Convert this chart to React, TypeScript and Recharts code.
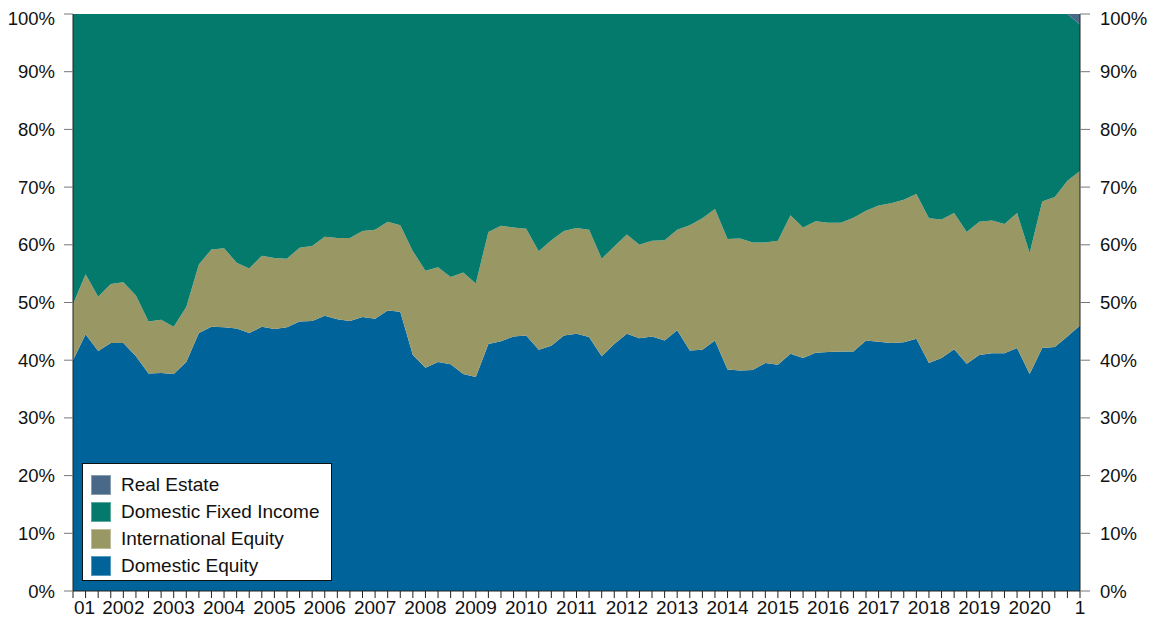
import React from 'react'
import { AreaChart, Area, XAxis, YAxis } from 'recharts'

// quarterly allocation mix, 2001 Q1 .. 2021 Q1 (percent of total)
const quarters = Array.from({ length: 81 }, (_, i) => `${2001 + Math.floor(i / 4)} Q${(i % 4) + 1}`)

const domesticEquity = [
  40.0, 44.5, 41.6, 43.0, 43.0, 40.7, 37.7, 37.8, 37.6, 39.7,
  44.7, 45.8, 45.7, 45.5, 44.7, 45.8, 45.4, 45.7, 46.7, 46.8,
  47.7, 47.1, 46.8, 47.5, 47.2, 48.6, 48.4, 40.9, 38.7, 39.7,
  39.3, 37.6, 37.1, 42.8, 43.3, 44.1, 44.3, 41.8, 42.5, 44.3,
  44.6, 44.0, 40.7, 42.8, 44.6, 43.8, 44.1, 43.4, 45.2, 41.7,
  41.8, 43.4, 38.4, 38.2, 38.3, 39.5, 39.2, 41.1, 40.4, 41.3,
  41.4, 41.5, 41.5, 43.4, 43.2, 43.0, 43.1, 43.7, 39.5, 40.4,
  41.9, 39.4, 40.9, 41.2, 41.2, 42.1, 37.6, 42.1, 42.3, 44.1,
  46.0,
]

const internationalEquity = [
  9.7, 10.4, 9.4, 10.2, 10.5, 10.5, 9.0, 9.2, 8.2, 9.5,
  11.9, 13.4, 13.7, 11.4, 11.2, 12.3, 12.3, 11.9, 12.8, 13.0,
  13.7, 14.1, 14.4, 14.9, 15.4, 15.4, 15.0, 18.0, 16.8, 16.4,
  15.1, 17.6, 16.2, 19.4, 20.0, 18.9, 18.5, 17.1, 18.3, 18.1,
  18.3, 18.6, 16.9, 16.9, 17.2, 16.2, 16.6, 17.4, 17.4, 21.7,
  22.8, 22.8, 22.6, 22.9, 22.1, 20.9, 21.5, 24.0, 22.6, 22.8,
  22.4, 22.3, 23.2, 22.5, 23.6, 24.2, 24.7, 25.1, 25.1, 24.0,
  23.6, 22.8, 23.1, 23.0, 22.4, 23.4, 21.0, 25.4, 26.0, 27.0,
  26.8,
]

const domesticFixedIncome = [
  50.3, 45.1, 49.0, 46.8, 46.5, 48.8, 53.3, 53.0, 54.2, 50.8,
  43.4, 40.8, 40.6, 43.1, 44.1, 41.9, 42.3, 42.4, 40.5, 40.2,
  38.6, 38.8, 38.8, 37.6, 37.4, 36.0, 36.6, 41.1, 44.5, 43.9,
  45.6, 44.8, 46.7, 37.8, 36.7, 37.0, 37.2, 41.1, 39.2, 37.6,
  37.1, 37.4, 42.4, 40.3, 38.2, 40.0, 39.3, 39.2, 37.4, 36.6,
  35.4, 33.8, 39.0, 38.9, 39.6, 39.6, 39.3, 34.9, 37.0, 35.9,
  36.2, 36.2, 35.3, 34.1, 33.2, 32.8, 32.2, 31.2, 35.4, 35.6,
  34.5, 37.8, 36.0, 35.8, 36.4, 34.5, 41.4, 32.5, 31.7, 28.9,
  25.4,
]

const realEstate = [
  0, 0, 0, 0, 0, 0, 0, 0, 0, 0,
  0, 0, 0, 0, 0, 0, 0, 0, 0, 0,
  0, 0, 0, 0, 0, 0, 0, 0, 0, 0,
  0, 0, 0, 0, 0, 0, 0, 0, 0, 0,
  0, 0, 0, 0, 0, 0, 0, 0, 0, 0,
  0, 0, 0, 0, 0, 0, 0, 0, 0, 0,
  0, 0, 0, 0, 0, 0, 0, 0, 0, 0,
  0, 0, 0, 0, 0, 0, 0, 0, 0, 0,
  1.8,
]

// one label per year, on every fourth quarter
const yearLabels = [
  '01', '2002', '2003', '2004', '2005', '2006', '2007', '2008', '2009', '2010', '2011',
  '2012', '2013', '2014', '2015', '2016', '2017', '2018', '2019', '2020', '1',
]
const yTicks = [0, 10, 20, 30, 40, 50, 60, 70, 80, 90, 100]

const data = quarters.map((q, i) => ({
  quarter: q,
  domesticEquity: domesticEquity[i],
  internationalEquity: internationalEquity[i],
  domesticFixedIncome: domesticFixedIncome[i],
  realEstate: realEstate[i],
}))

const series = [
  { key: 'domesticEquity', name: 'Domestic Equity', color: '#00639A' },
  { key: 'internationalEquity', name: 'International Equity', color: '#999865' },
  { key: 'domesticFixedIncome', name: 'Domestic Fixed Income', color: '#037A6C' },
  { key: 'realEstate', name: 'Real Estate', color: '#4A6988' },
]

const FONT = '"Liberation Sans", Arial, sans-serif'

function XTick(props: any) {
  const { x, y, index } = props
  if (index % 4 !== 0) return null
  const first = index === 0
  return (
    <text x={first ? x + 1 : x} y={y} dy="0.71em" textAnchor={first ? 'start' : 'middle'}
      fill="#111" fontSize={19} fontFamily={FONT}>
      {yearLabels[index / 4]}
    </text>
  )
}

function LegendBox() {
  const items = [...series].reverse()
  return (
    <div style={{ position: 'absolute', left: 74, top: 455, width: 250, height: 118, background: '#fff', border: '1px solid #111', boxSizing: 'border-box', padding: '7px 0 0 8px', fontFamily: FONT }}>
      {items.map(it => (
        <div key={it.key} style={{ display: 'flex', alignItems: 'center', height: 27 }}>
          <span style={{ width: 20, height: 20, background: it.color, marginRight: 10, boxShadow: 'inset 0 0 0 1px rgba(255,255,255,0.35)' }} />
          <span style={{ fontSize: 19, color: '#111' }}>{it.name}</span>
        </div>
      ))}
    </div>
  )
}

export default function App() {
  return (
    <div style={{ position: 'relative', width: 1140, height: 610 }}>
      <AreaChart width={1140} height={610} data={data} margin={{ top: 6, right: 0, bottom: 0, left: 0 }}>
        <XAxis dataKey="quarter" interval={0} tick={XTick} tickSize={7} tickMargin={3} height={27}
          axisLine={{ stroke: '#222' }} tickLine={{ stroke: '#222' }} />
        <XAxis xAxisId="top" dataKey="quarter" orientation="top" height={0} tick={false} tickLine={false}
          axisLine={{ stroke: '#222' }} />
        <YAxis yAxisId="left" orientation="left" domain={[0, 100]} ticks={yTicks} width={65}
          tickFormatter={(v: number) => `${v}%`} tickSize={9} tickMargin={9}
          tick={{ fill: '#111', fontSize: 18.5, fontFamily: FONT }}
          axisLine={{ stroke: '#222' }} tickLine={{ stroke: '#777' }} />
        <YAxis yAxisId="right" orientation="right" domain={[0, 100]} ticks={yTicks} width={68}
          tickFormatter={(v: number) => `${v}%`} tickSize={10} tickMargin={10}
          tick={{ fill: '#111', fontSize: 18.5, fontFamily: FONT }}
          axisLine={{ stroke: '#222' }} tickLine={{ stroke: '#777' }} />
        {series.map(s => (
          <Area key={s.key} yAxisId="left" type="linear" dataKey={s.key} name={s.name} stackId="1"
            stroke="none" fill={s.color} fillOpacity={1} isAnimationActive={false} />
        ))}
        {/* invisible series so the right-hand axis gets drawn */}
        <Area yAxisId="right" type="linear" dataKey="domesticEquity" stroke="none" fill="none"
          isAnimationActive={false} legendType="none" />
      </AreaChart>
      <LegendBox />
    </div>
  )
}
